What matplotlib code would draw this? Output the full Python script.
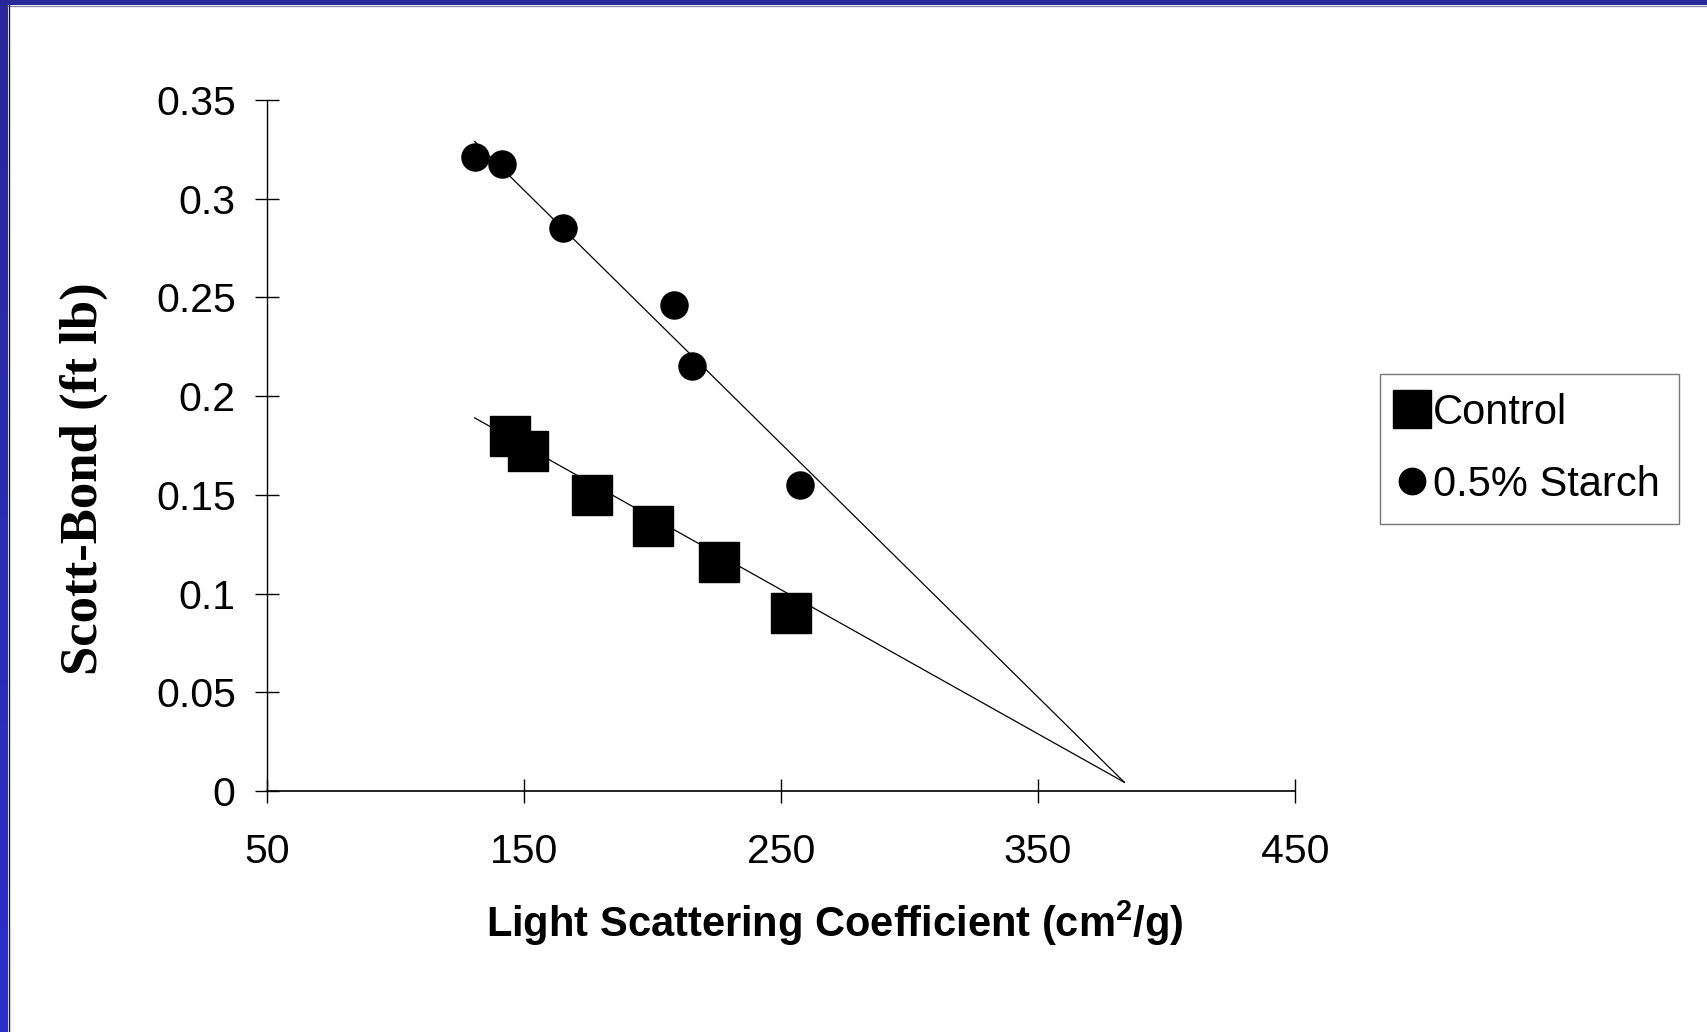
import numpy as np
import matplotlib.pyplot as plt
from matplotlib.colors import LinearSegmentedColormap

# data
control_x = [144.4, 151.6, 176.6, 200.3, 225.7, 254.0]
control_y = [0.180, 0.172, 0.150, 0.134, 0.116, 0.090]
starch_x = [130.8, 141.4, 165.1, 208.3, 215.5, 257.4]
starch_y = [0.321, 0.3175, 0.285, 0.246, 0.2155, 0.155]

# trend lines (start / end as drawn)
trend_x = [130.8, 383.6]
control_trend = [0.189, 0.0044]
starch_trend = [0.329, 0.0044]

xticks = [50, 150, 250, 350, 450]
yticks = [0, 0.05, 0.1, 0.15, 0.2, 0.25, 0.3, 0.35]
ylabels = ['0', '0.05', '0.1', '0.15', '0.2', '0.25', '0.3', '0.35']

plt.rcParams['font.family'] = 'Liberation Sans'
plt.rcParams['mathtext.fontset'] = 'custom'
plt.rcParams['mathtext.rm'] = 'Liberation Sans'
plt.rcParams['mathtext.bf'] = 'Liberation Sans:bold'

W, H = 1707, 1032
fig = plt.figure(figsize=(W / 100, H / 100), dpi=100)
fig.patch.set_facecolor('white')

# blue frame: top bar and left bar with gradient
top = fig.add_axes([0, 1 - 5 / H, 1, 5 / H])
top.set_facecolor('#28289a')
top.set_xticks([]); top.set_yticks([])
for s in top.spines.values():
    s.set_visible(False)
fig.add_artist(plt.Line2D([8 / W, 1], [1 - 5.5 / H, 1 - 5.5 / H], color='#8a8aa8', lw=1))

left = fig.add_axes([0, 0, 8 / W, 1])
grad = np.linspace(0, 1, 256).reshape(-1, 1)
cm = LinearSegmentedColormap.from_list('edge', ['#2e2ecc', '#28289a'])
left.imshow(grad, aspect='auto', cmap=cm, origin='lower', extent=[0, 1, 0, 1])
left.set_xticks([]); left.set_yticks([])
for s in left.spines.values():
    s.set_visible(False)
fig.add_artist(plt.Line2D([8.5 / W, 8.5 / W], [0, 1 - 5 / H], color='#111133', lw=1))

ax = fig.add_axes([267 / W, 1 - 791 / H, (1295 - 267) / W, (791 - 100) / H])
ax.set_xlim(50, 450)
ax.set_ylim(0, 0.35)

ax.plot(trend_x, starch_trend, color='black', lw=0.9, zorder=2)
ax.plot(trend_x, control_trend, color='black', lw=0.9, zorder=2)
ax.plot(control_x, control_y, 's', color='black', ms=29, ls='none',
        label='Control', zorder=3)
ax.plot(starch_x, starch_y, 'o', color='black', ms=19.5, ls='none',
        label='0.5% Starch', zorder=3)

for side in ['top', 'right']:
    ax.spines[side].set_visible(False)
ax.spines['left'].set_linewidth(1)
ax.spines['bottom'].set_linewidth(1.2)

ax.set_xticks(xticks)
ax.set_xticklabels([str(v) for v in xticks])
ax.set_yticks(yticks)
ax.set_yticklabels(ylabels)
ax.tick_params(axis='both', direction='inout', length=17, width=1,
               labelsize=29.5)
ax.tick_params(axis='x', pad=22)
ax.tick_params(axis='y', pad=14)

fig.text(835 / W, 1 - 923 / H, 'Light Scattering Coefficient (cm$^\\mathbf{2}$/g)',
         ha='center', va='center', fontsize=30, fontweight='bold')
fig.text(84 / W, 1 - 479 / H, 'Scott-Bond (ft lb)', rotation=90,
         ha='center', va='center', fontsize=38, fontweight='bold',
         family='Liberation Serif')

leg = ax.legend(loc='upper left', bbox_to_anchor=(1380 / W, 1 - 374 / H),
                bbox_transform=fig.transFigure, frameon=True, fancybox=False,
                prop={'size': 30},
                handletextpad=0.2, handlelength=0.63, borderpad=0.45,
                labelspacing=0.77, borderaxespad=0)
leg.get_frame().set_edgecolor('#555555')
leg.get_frame().set_linewidth(1)
leg.legend_handles[0].set_markersize(28)
leg.legend_handles[1].set_markersize(19)

fig.savefig('out.png', dpi=100)
